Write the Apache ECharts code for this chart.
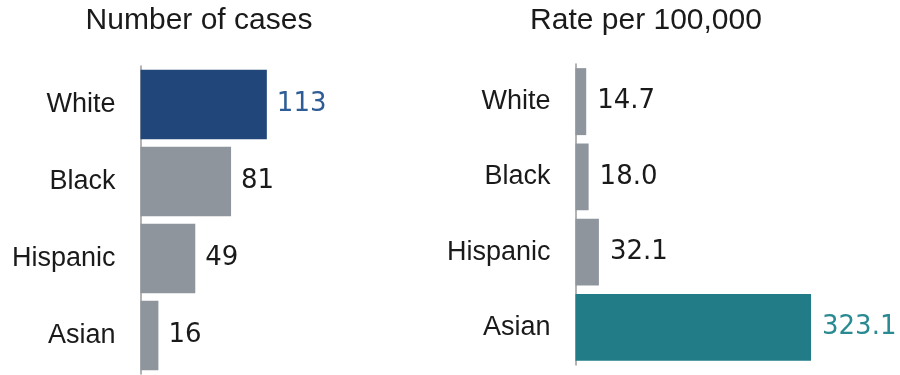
<!DOCTYPE html>
<html><head><meta charset="utf-8">
<script src="https://cdn.jsdelivr.net/npm/echarts@6/dist/echarts.min.js"></script>
<style>html,body{margin:0;padding:0;background:#fff}#c{width:900px;height:375px}</style>
</head><body><div id="c"></div>
<script>
const categories = ["White", "Black", "Hispanic", "Asian"];
const cases = [113, 81, 49, 16];
const rates = [14.7, 18.0, 32.1, 323.1];
const titles = ["Number of cases", "Rate per 100,000"];

const FONT = "Liberation Sans";
const NUMFONT = "DejaVu Sans";
const GRAY = "#8f959d";
const caseColors = ["#21477a", GRAY, GRAY, GRAY];
const rateColors = [GRAY, GRAY, GRAY, "#217c87"];
const caseLabelColors = ["#2d5c96", "#1a1a1a", "#1a1a1a", "#1a1a1a"];
const rateLabelColors = ["#1a1a1a", "#1a1a1a", "#1a1a1a", "#2a8a92"];

const chart = echarts.init(document.getElementById('c'));
function mk(vals, colors, lcolors, fmt) {
  return vals.map((v, i) => ({
    value: v,
    itemStyle: { color: colors[i] },
    label: { color: lcolors[i], formatter: () => fmt(v) }
  }));
}
const catAxis = (gi) => ({
  type: 'category', gridIndex: gi, data: categories, inverse: true,
  axisLine: { show: true, lineStyle: { color: '#9a9a9a', width: 1.5 } },
  axisTick: { show: false },
  axisLabel: { fontFamily: FONT, fontSize: 27, color: '#1a1a1a', margin: 25 }
});
chart.setOption({
  animation: false,
  title: [
    { text: titles[0], left: 194, top: 1, textAlign: 'center',
      textStyle: { fontFamily: FONT, fontSize: 30, fontWeight: 'normal', color: '#1a1a1a' } },
    { text: titles[1], left: 641, top: 1, textAlign: 'center',
      textStyle: { fontFamily: FONT, fontSize: 30, fontWeight: 'normal', color: '#1a1a1a' } }
  ],
  grid: [
    { left: 140.5, top: 66, width: 223.6, height: 308 },
    { left: 575.5, top: 64, width: 291.6, height: 301 }
  ],
  xAxis: [
    { type: 'value', gridIndex: 0, min: 0, max: 200, show: false },
    { type: 'value', gridIndex: 1, min: 0, max: 400, show: false }
  ],
  yAxis: [catAxis(0), catAxis(1)],
  series: [
    { type: 'bar', xAxisIndex: 0, yAxisIndex: 0, barCategoryGap: '10%',
      data: mk(cases, caseColors, caseLabelColors, v => String(v)),
      label: { show: true, position: 'right', distance: 10, fontFamily: NUMFONT, fontSize: 26 } },
    { type: 'bar', xAxisIndex: 1, yAxisIndex: 1, barCategoryGap: '11%',
      data: mk(rates, rateColors, rateLabelColors, v => v.toFixed(1)),
      label: { show: true, position: 'right', distance: 11, fontFamily: NUMFONT, fontSize: 26 } }
  ]
});
</script></body></html>
